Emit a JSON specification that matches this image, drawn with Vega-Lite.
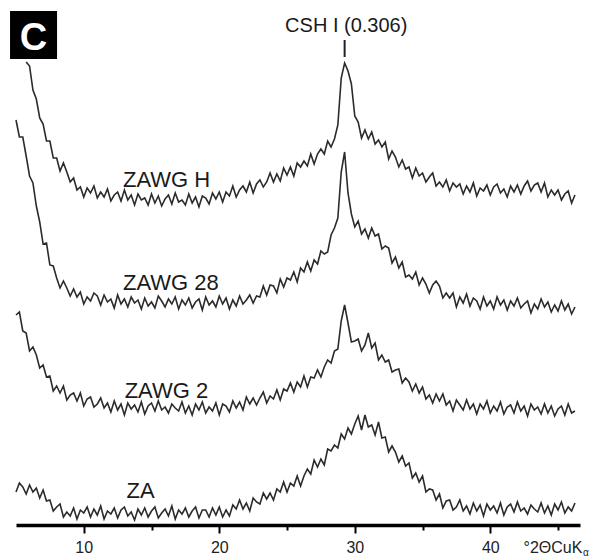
{
  "$schema": "https://vega.github.io/schema/vega-lite/v6.json",
  "width": 564,
  "height": 525,
  "autosize": {"type": "none"},
  "padding": {"left": 16, "top": 0, "right": 10, "bottom": 34},
  "background": "white",
  "config": {"view": {"stroke": null}, "font": "Liberation Sans"},
  "datasets": {
    "xrd": [
      {"x":5,"h":null,"t":403,"w":208,"z":31},
      {"x":5.25,"h":null,"t":386,"w":211,"z":40},
      {"x":5.5,"h":null,"t":386,"w":192,"z":36},
      {"x":5.75,"h":461,"t":367,"w":190,"z":29},
      {"x":6,"h":457,"t":347,"w":172,"z":38},
      {"x":6.25,"h":433,"t":340,"w":176,"z":31},
      {"x":6.5,"h":424,"t":317,"w":168,"z":35},
      {"x":6.75,"h":405,"t":301,"w":155,"z":25},
      {"x":7,"h":399,"t":279,"w":158,"z":33},
      {"x":7.25,"h":382,"t":280,"w":146,"z":22},
      {"x":7.5,"h":382,"t":258,"w":147,"z":23},
      {"x":7.75,"h":365,"t":257,"w":132,"z":12},
      {"x":8,"h":365,"t":245,"w":137,"z":16},
      {"x":8.25,"h":352,"t":235,"w":130,"z":19},
      {"x":8.5,"h":360,"t":242,"w":137,"z":6},
      {"x":8.75,"h":351,"t":235,"w":123,"z":11},
      {"x":9,"h":341,"t":227,"w":128,"z":7},
      {"x":9.25,"h":345,"t":234,"w":130,"z":15},
      {"x":9.5,"h":333,"t":226,"w":122,"z":4},
      {"x":9.75,"h":336,"t":231,"w":130,"z":13},
      {"x":10,"h":326,"t":219,"w":117,"z":10},
      {"x":10.25,"h":335,"t":226,"w":124,"z":16},
      {"x":10.5,"h":330,"t":222,"w":126,"z":6},
      {"x":10.75,"h":337,"t":230,"w":116,"z":14},
      {"x":11,"h":325,"t":227,"w":119,"z":8},
      {"x":11.25,"h":331,"t":218,"w":125,"z":17},
      {"x":11.5,"h":326,"t":228,"w":115,"z":4},
      {"x":11.75,"h":334,"t":221,"w":120,"z":12},
      {"x":12,"h":322,"t":224,"w":111,"z":9},
      {"x":12.25,"h":328,"t":215,"w":122,"z":15},
      {"x":12.5,"h":331,"t":228,"w":113,"z":5},
      {"x":12.75,"h":322,"t":219,"w":119,"z":13},
      {"x":13,"h":333,"t":224,"w":108,"z":16},
      {"x":13.25,"h":323,"t":216,"w":120,"z":7},
      {"x":13.5,"h":328,"t":226,"w":114,"z":11},
      {"x":13.75,"h":318,"t":220,"w":118,"z":3},
      {"x":14,"h":329,"t":223,"w":111,"z":14},
      {"x":14.25,"h":323,"t":214,"w":121,"z":8},
      {"x":14.5,"h":325,"t":225,"w":109,"z":15},
      {"x":14.75,"h":318,"t":217,"w":117,"z":6},
      {"x":15,"h":329,"t":221,"w":120,"z":12},
      {"x":15.25,"h":320,"t":215,"w":112,"z":16},
      {"x":15.5,"h":327,"t":227,"w":122,"z":5},
      {"x":15.75,"h":317,"t":222,"w":113,"z":10},
      {"x":16,"h":324,"t":216,"w":116,"z":14},
      {"x":16.25,"h":328,"t":224,"w":110,"z":7},
      {"x":16.5,"h":319,"t":219,"w":119,"z":17},
      {"x":16.75,"h":330,"t":226,"w":115,"z":4},
      {"x":17,"h":321,"t":214,"w":112,"z":13},
      {"x":17.25,"h":323,"t":223,"w":121,"z":9},
      {"x":17.5,"h":318,"t":218,"w":110,"z":15},
      {"x":17.75,"h":329,"t":225,"w":117,"z":6},
      {"x":18,"h":320,"t":215,"w":108,"z":12},
      {"x":18.25,"h":326,"t":221,"w":119,"z":16},
      {"x":18.5,"h":316,"t":224,"w":113,"z":5},
      {"x":18.75,"h":327,"t":213,"w":121,"z":13},
      {"x":19,"h":325,"t":226,"w":110,"z":13},
      {"x":19.25,"h":319,"t":218,"w":116,"z":6},
      {"x":19.5,"h":330,"t":222,"w":112,"z":15},
      {"x":19.75,"h":324,"t":216,"w":120,"z":8},
      {"x":20,"h":331,"t":227,"w":108,"z":16},
      {"x":20.25,"h":321,"t":219,"w":119,"z":6},
      {"x":20.5,"h":331,"t":225,"w":117,"z":13},
      {"x":20.75,"h":327,"t":214,"w":111,"z":7},
      {"x":21,"h":337,"t":223,"w":122,"z":18},
      {"x":21.25,"h":326,"t":217,"w":115,"z":14},
      {"x":21.5,"h":333,"t":227,"w":121,"z":23},
      {"x":21.75,"h":337,"t":219,"w":113,"z":14},
      {"x":22,"h":331,"t":223,"w":126,"z":20},
      {"x":22.25,"h":341,"t":228,"w":119,"z":12},
      {"x":22.5,"h":330,"t":220,"w":125,"z":25},
      {"x":22.75,"h":339,"t":227,"w":118,"z":21},
      {"x":23,"h":343,"t":226,"w":125,"z":19},
      {"x":23.25,"h":336,"t":237,"w":131,"z":30},
      {"x":23.5,"h":341,"t":228,"w":120,"z":24},
      {"x":23.75,"h":350,"t":238,"w":127,"z":30},
      {"x":24,"h":341,"t":237,"w":124,"z":23},
      {"x":24.25,"h":349,"t":230,"w":133,"z":34},
      {"x":24.5,"h":342,"t":244,"w":123,"z":31},
      {"x":24.75,"h":355,"t":236,"w":134,"z":41},
      {"x":25,"h":348,"t":245,"w":132,"z":31},
      {"x":25.25,"h":356,"t":243,"w":140,"z":40},
      {"x":25.5,"h":347,"t":251,"w":131,"z":37},
      {"x":25.75,"h":360,"t":241,"w":141,"z":47},
      {"x":26,"h":356,"t":255,"w":136,"z":37},
      {"x":26.25,"h":362,"t":251,"w":147,"z":47},
      {"x":26.5,"h":357,"t":261,"w":136,"z":54},
      {"x":26.75,"h":369,"t":252,"w":146,"z":49},
      {"x":27,"h":359,"t":263,"w":145,"z":63},
      {"x":27.25,"h":369,"t":259,"w":153,"z":56},
      {"x":27.5,"h":374,"t":272,"w":146,"z":64},
      {"x":27.75,"h":369,"t":269,"w":156,"z":58},
      {"x":28,"h":382,"t":271,"w":163,"z":74},
      {"x":28.25,"h":376,"t":288,"w":160,"z":72},
      {"x":28.5,"h":384,"t":295,"w":172,"z":78},
      {"x":28.75,"h":398,"t":305,"w":174,"z":75},
      {"x":29,"h":445,"t":351,"w":202,"z":89},
      {"x":29.25,"h":460,"t":371,"w":218,"z":84},
      {"x":29.5,"h":452,"t":330,"w":200,"z":95},
      {"x":29.75,"h":439,"t":309,"w":181,"z":89},
      {"x":30,"h":407,"t":296,"w":182,"z":99},
      {"x":30.25,"h":401,"t":302,"w":184,"z":107},
      {"x":30.5,"h":385,"t":289,"w":172,"z":93},
      {"x":30.75,"h":393,"t":294,"w":178,"z":108},
      {"x":31,"h":384,"t":285,"w":190,"z":96},
      {"x":31.25,"h":391,"t":295,"w":175,"z":98},
      {"x":31.5,"h":379,"t":287,"w":180,"z":88},
      {"x":31.75,"h":383,"t":289,"w":163,"z":101},
      {"x":32,"h":376,"t":274,"w":168,"z":85},
      {"x":32.25,"h":381,"t":277,"w":161,"z":86},
      {"x":32.5,"h":364,"t":275,"w":163,"z":71},
      {"x":32.75,"h":372,"t":260,"w":151,"z":77},
      {"x":33,"h":366,"t":266,"w":153,"z":71},
      {"x":33.25,"h":356,"t":255,"w":154,"z":61},
      {"x":33.5,"h":363,"t":261,"w":140,"z":67},
      {"x":33.75,"h":354,"t":246,"w":145,"z":57},
      {"x":34,"h":356,"t":248,"w":141,"z":60},
      {"x":34.25,"h":345,"t":244,"w":132,"z":45},
      {"x":34.5,"h":355,"t":251,"w":139,"z":50},
      {"x":34.75,"h":347,"t":238,"w":130,"z":41},
      {"x":35,"h":350,"t":245,"w":136,"z":47},
      {"x":35.25,"h":341,"t":239,"w":124,"z":31},
      {"x":35.5,"h":346,"t":230,"w":128,"z":34},
      {"x":35.75,"h":350,"t":238,"w":120,"z":33},
      {"x":36,"h":337,"t":242,"w":129,"z":23},
      {"x":36.25,"h":341,"t":237,"w":122,"z":29},
      {"x":36.5,"h":336,"t":225,"w":129,"z":15},
      {"x":36.75,"h":343,"t":230,"w":118,"z":22},
      {"x":37,"h":332,"t":225,"w":122,"z":23},
      {"x":37.25,"h":340,"t":230,"w":112,"z":13},
      {"x":37.5,"h":336,"t":216,"w":123,"z":16},
      {"x":37.75,"h":339,"t":226,"w":118,"z":23},
      {"x":38,"h":329,"t":220,"w":113,"z":12},
      {"x":38.25,"h":337,"t":229,"w":123,"z":17},
      {"x":38.5,"h":331,"t":217,"w":114,"z":9},
      {"x":38.75,"h":340,"t":225,"w":119,"z":20},
      {"x":39,"h":327,"t":222,"w":109,"z":12},
      {"x":39.25,"h":335,"t":214,"w":119,"z":18},
      {"x":39.5,"h":332,"t":226,"w":114,"z":7},
      {"x":39.75,"h":338,"t":217,"w":122,"z":19},
      {"x":40,"h":328,"t":222,"w":110,"z":13},
      {"x":40.25,"h":336,"t":214,"w":117,"z":17},
      {"x":40.5,"h":339,"t":226,"w":112,"z":10},
      {"x":40.75,"h":330,"t":218,"w":121,"z":20},
      {"x":41,"h":334,"t":223,"w":109,"z":8},
      {"x":41.25,"h":326,"t":213,"w":116,"z":16},
      {"x":41.5,"h":337,"t":222,"w":118,"z":19},
      {"x":41.75,"h":331,"t":217,"w":110,"z":11},
      {"x":42,"h":338,"t":225,"w":121,"z":21},
      {"x":42.25,"h":329,"t":215,"w":112,"z":12},
      {"x":42.5,"h":337,"t":219,"w":117,"z":15},
      {"x":42.75,"h":342,"t":222,"w":107,"z":9},
      {"x":43,"h":332,"t":210,"w":119,"z":18},
      {"x":43.25,"h":338,"t":219,"w":113,"z":14},
      {"x":43.5,"h":340,"t":214,"w":116,"z":11},
      {"x":43.75,"h":331,"t":224,"w":109,"z":20},
      {"x":44,"h":340,"t":216,"w":119,"z":10},
      {"x":44.25,"h":326,"t":221,"w":110,"z":17},
      {"x":44.5,"h":333,"t":211,"w":117,"z":8},
      {"x":44.75,"h":328,"t":218,"w":107,"z":19},
      {"x":45,"h":333,"t":212,"w":114,"z":13},
      {"x":45.25,"h":323,"t":222,"w":117,"z":21},
      {"x":45.5,"h":329,"t":213,"w":108,"z":10},
      {"x":45.75,"h":332,"t":219,"w":119,"z":16},
      {"x":46,"h":320,"t":209,"w":110,"z":12},
      {"x":46.25,"h":328,"t":216,"w":112,"z":20}
    ]
  },
  "encoding": {
    "x": {
      "field": "x",
      "type": "quantitative",
      "scale": {"domain": [5, 46.62], "nice": false, "zero": false},
      "axis": {
        "values": [10, 15, 20, 25, 30, 35, 40, 45],
        "labelExpr": "datum.value % 10 === 0 ? datum.label : ''",
        "title": null,
        "grid": false,
        "domainColor": "#000000",
        "domainWidth": 3.5,
        "tickColor": "#000000",
        "tickWidth": 2,
        "tickSize": {"condition": {"test": "datum.value % 10 === 0", "value": 8}, "value": 5},
        "labelFontSize": 16,
        "labelFont": "Liberation Sans",
        "labelColor": "#222222",
        "labelPadding": 6,
        "labelFlush": false,
        "labelOverlap": false
      }
    },
    "y": {
      "field": "y",
      "type": "quantitative",
      "scale": {"domain": [-2, 523], "nice": false, "zero": false},
      "axis": null
    }
  },
  "layer": [
    {
      "data": {"name": "xrd"},
      "transform": [
        {"fold": ["h", "t", "w", "z"], "as": ["s", "y"]},
        {"filter": "datum.y != null"}
      ],
      "mark": {"type": "line", "color": "#2b2b2b", "strokeWidth": 1.6, "strokeJoin": "miter"},
      "encoding": {"detail": {"field": "s", "type": "nominal"}}
    },
    {
      "data": {"values": [
        {"x": 12.9, "y": 336, "label": "ZAWG H"},
        {"x": 12.9, "y": 233, "label": "ZAWG 28"},
        {"x": 13.02, "y": 125, "label": "ZAWG 2"},
        {"x": 13.15, "y": 25, "label": "ZA"}
      ]},
      "mark": {"type": "text", "align": "left", "baseline": "alphabetic", "fontSize": 22, "color": "#1a1a1a", "font": "Liberation Sans"},
      "encoding": {"text": {"field": "label"}}
    },
    {
      "data": {"values": [{"x": 29.37, "y": 491, "label": "CSH I (0.306)"}]},
      "mark": {"type": "text", "align": "center", "baseline": "alphabetic", "fontSize": 20, "color": "#1a1a1a", "font": "Liberation Sans"},
      "encoding": {"text": {"field": "label"}}
    },
    {
      "data": {"values": [{"x": 29.25, "y": 466, "y2": 483}]},
      "mark": {"type": "rule", "color": "#222222", "strokeWidth": 2},
      "encoding": {"y2": {"field": "y2"}}
    },
    {
      "data": {"values": [{"x": 4.56, "x2": 8.03, "y": 464, "y2": 512}]},
      "mark": {"type": "rect", "color": "#000000"},
      "encoding": {"x2": {"field": "x2"}, "y2": {"field": "y2"}}
    },
    {
      "data": {"values": [{"x": 6.29, "y": 473, "label": "C"}]},
      "mark": {"type": "text", "align": "center", "baseline": "alphabetic", "fontSize": 38, "fontWeight": "bold", "color": "#ffffff", "font": "Liberation Sans"},
      "encoding": {"text": {"field": "label"}}
    },
    {
      "data": {"values": [{"x": 42.45, "y": -30, "label": "°2ΘCuK"}]},
      "mark": {"type": "text", "align": "left", "baseline": "alphabetic", "fontSize": 16, "color": "#222222", "font": "Liberation Sans"},
      "encoding": {"text": {"field": "label"}}
    },
    {
      "data": {"values": [{"x": 46.85, "y": -33, "label": "α"}]},
      "mark": {"type": "text", "align": "left", "baseline": "alphabetic", "fontSize": 10, "color": "#222222", "font": "Liberation Sans"},
      "encoding": {"text": {"field": "label"}}
    }
  ]
}
